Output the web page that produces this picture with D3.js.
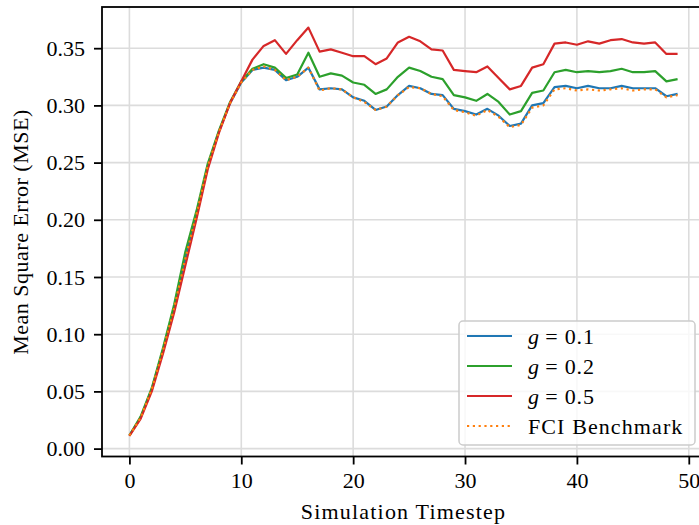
<!DOCTYPE html>
<html>
<head>
<meta charset="utf-8">
<script src="https://cdn.jsdelivr.net/npm/d3@7"></script>
<style>
  html, body { margin: 0; padding: 0; background: #fff; }
  svg { display: block; }
  text { font-family: "Liberation Serif", "Times New Roman", serif; fill: #000; }
</style>
</head>
<body>
<svg id="chart" width="699" height="525"></svg>
<script>
const timesteps = [0,1,2,3,4,5,6,7,8,9,10,11,12,13,14,15,16,17,18,19,20,21,22,23,24,25,26,27,28,29,30,31,32,33,34,35,36,37,38,39,40,41,42,43,44,45,46,47,48,49];

const g01 = [0.0115,0.027,0.052,0.086,0.123,0.166,0.205,0.247,0.277,0.302,
  0.320,0.331,0.333,0.331,0.322,0.325,0.333,0.314,0.315,0.314,
  0.307,0.304,0.296,0.299,0.309,0.317,0.315,0.310,0.309,0.297,
  0.295,0.292,0.297,0.291,0.282,0.284,0.300,0.302,0.316,0.317,
  0.315,0.317,0.315,0.315,0.317,0.315,0.315,0.315,0.308,0.310];

const g02 = [0.0115,0.028,0.053,0.088,0.126,0.172,0.208,0.249,0.278,0.303,
  0.321,0.332,0.336,0.333,0.324,0.327,0.346,0.325,0.328,0.326,
  0.320,0.318,0.310,0.314,0.325,0.333,0.330,0.325,0.323,0.309,
  0.307,0.304,0.310,0.303,0.292,0.295,0.311,0.313,0.329,0.331,
  0.329,0.330,0.329,0.330,0.332,0.329,0.329,0.330,0.321,0.323];

const g05 = [0.011,0.026,0.050,0.083,0.119,0.160,0.201,0.244,0.276,0.302,
  0.321,0.340,0.352,0.357,0.345,0.357,0.368,0.347,0.349,0.346,
  0.343,0.343,0.336,0.341,0.355,0.360,0.356,0.349,0.348,0.331,
  0.330,0.329,0.334,0.324,0.314,0.317,0.333,0.336,0.354,0.355,
  0.353,0.356,0.354,0.357,0.358,0.355,0.354,0.355,0.345,0.345];

const fci = [0.0115,0.027,0.052,0.086,0.123,0.166,0.205,0.247,0.277,0.302,
  0.320,0.331,0.334,0.331,0.322,0.325,0.333,0.313,0.315,0.314,
  0.307,0.303,0.296,0.299,0.309,0.316,0.315,0.310,0.308,0.296,
  0.294,0.291,0.296,0.290,0.281,0.283,0.298,0.300,0.314,0.315,
  0.313,0.314,0.313,0.314,0.315,0.313,0.314,0.314,0.307,0.309];

const xTicks = [0,10,20,30,40,50];
const yTicks = [0.00,0.05,0.10,0.15,0.20,0.25,0.30,0.35];

const seriesNames = ["g01","g02","g05","fci"];
const legendLabels = [["g"," = 0.1"],["g"," = 0.2"],["g"," = 0.5"],[null,"FCI Benchmark"]];
const colors = ["#1f77b4","#2ca02c","#d62728","#ff7f0e"];

const seriesValues = [g01, g02, g05, fci];

const svg = d3.select("#chart");
const L = 102, R = 705, T = 7, B = 456.5;

const x = d3.scaleLinear().domain([-2.45, 51.45]).range([L, R]);
const y = d3.scaleLinear().domain([-0.0069, 0.386]).range([B, T]);

// grid
const grid = svg.append("g");
grid.selectAll("line.gx").data(xTicks).join("line")
  .attr("x1", d => x(d)).attr("x2", d => x(d))
  .attr("y1", T).attr("y2", B)
  .attr("stroke", "#dcdcdc").attr("stroke-width", 1.6);
grid.selectAll("line.gy").data(yTicks).join("line")
  .attr("y1", d => y(d)).attr("y2", d => y(d))
  .attr("x1", L).attr("x2", R)
  .attr("stroke", "#dcdcdc").attr("stroke-width", 1.6);

// lines
const line = d3.line().x((d, i) => x(timesteps[i])).y(d => y(d));
seriesValues.forEach((vals, k) => {
  const p = svg.append("path").datum(vals)
    .attr("d", line)
    .attr("fill", "none")
    .attr("stroke", colors[k])
    .attr("stroke-width", 2.2)
    .attr("stroke-linejoin", "round");
  if (k === 3) p.attr("stroke-dasharray", "2.2,3.6");
});

// axes
const xAxis = d3.axisBottom(x).tickValues(xTicks).tickFormat(d3.format("d")).tickSize(8).tickPadding(8);
const yAxis = d3.axisLeft(y).tickValues(yTicks).tickFormat(d3.format(".2f")).tickSize(8).tickPadding(9);

const gx = svg.append("g").attr("transform", `translate(0,${B})`).call(xAxis);
const gy = svg.append("g").attr("transform", `translate(${L},0)`).call(yAxis);
[gx, gy].forEach(g => {
  g.select(".domain").remove();
  g.selectAll(".tick line").attr("stroke", "#000").attr("stroke-width", 1.8);
  g.selectAll(".tick text").attr("font-size", 22).attr("font-family", "Liberation Serif").attr("fill", "#000");
});
gx.selectAll(".tick text").attr("dy", "0.72em");

// frame
svg.append("rect").attr("x", L).attr("y", T).attr("width", R - L).attr("height", B - T)
  .attr("fill", "none").attr("stroke", "#000").attr("stroke-width", 1.8);

// axis labels
svg.append("text").attr("x", (L + R) / 2).attr("y", 519)
  .attr("text-anchor", "middle").attr("font-size", 22).attr("letter-spacing", 1.2)
  .text("Simulation Timestep");
svg.append("text").attr("transform", "translate(28,232) rotate(-90)")
  .attr("text-anchor", "middle").attr("font-size", 22).attr("letter-spacing", 0.5)
  .text("Mean Square Error (MSE)");

// legend
const lg = svg.append("g");
lg.append("rect").attr("x", 459).attr("y", 321).attr("width", 236).attr("height", 124)
  .attr("rx", 4).attr("fill", "#fff").attr("fill-opacity", 0.8)
  .attr("stroke", "#cccccc").attr("stroke-width", 1.5);
legendLabels.forEach((lab, k) => {
  const cy = 336 + k * 30;
  const ln = lg.append("line").attr("x1", 467).attr("x2", 512).attr("y1", cy).attr("y2", cy)
    .attr("stroke", colors[k]).attr("stroke-width", 2.2);
  if (k === 3) ln.attr("stroke-dasharray", "2.2,3.6");
  const t = lg.append("text").attr("x", 528).attr("y", cy + 8).attr("font-size", 22);
  if (lab[0]) {
    t.append("tspan").attr("font-style", "italic").text(lab[0]);
    t.append("tspan").attr("xml:space", "preserve").style("white-space", "pre").attr("letter-spacing", 0.8).text(lab[1]);
  } else {
    t.attr("letter-spacing", 1.1).text(lab[1]);
  }
});
</script>
</body>
</html>
